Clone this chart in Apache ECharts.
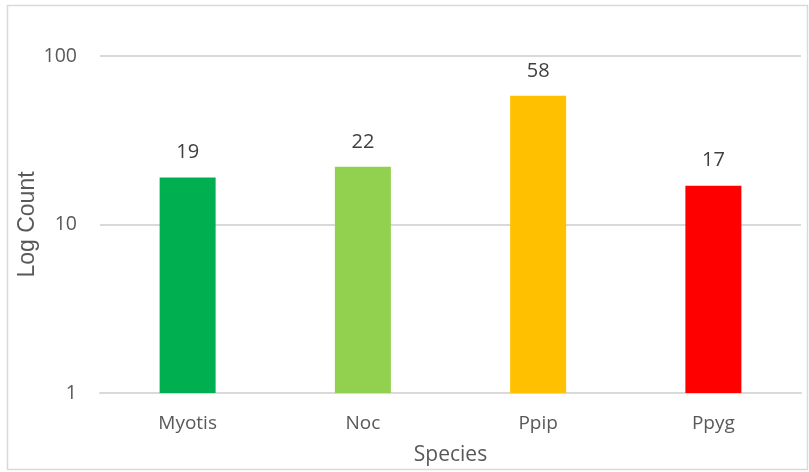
<!DOCTYPE html>
<html>
<head>
<meta charset="utf-8">
<script src="https://cdn.jsdelivr.net/npm/echarts@6/dist/echarts.min.js"></script>
<style>
  html, body { margin: 0; padding: 0; background: #fff; }
  #chart { width: 809px; height: 472px; }
</style>
</head>
<body>
<div id="chart"></div>
<script>
// Bat detections per species, plotted on a log axis
const species = ['Myotis', 'Noc', 'Ppip', 'Ppyg'];
const counts = [19, 22, 58, 17];
const barColors = ['#00B050', '#92D050', '#FFC000', '#FF0000'];

const textColor = '#595959';
const fontFamily = '"Open Sans", "Noto Sans", sans-serif';

const chart = echarts.init(document.getElementById('chart'), null, { renderer: 'canvas' });

chart.setOption({
  backgroundColor: '#ffffff',
  animation: false,
  graphic: [{
    type: 'rect',
    shape: { x: 7.5, y: 5.5, width: 800, height: 464 },
    style: { fill: 'none', stroke: '#d9d9d9', lineWidth: 1.5 },
    silent: true
  }],
  grid: { left: 100, right: 8, top: 56, bottom: 79, containLabel: false },
  xAxis: {
    type: 'category',
    data: species,
    name: 'Species',
    nameLocation: 'middle',
    nameGap: 52,
    nameTextStyle: { color: textColor, fontSize: 21, fontFamily },
    axisLine: { show: true, lineStyle: { color: '#d9d9d9', width: 2 } },
    axisTick: { show: false },
    axisLabel: { color: textColor, fontSize: 19, fontFamily, margin: 21 }
  },
  yAxis: {
    type: 'log',
    logBase: 10,
    min: 1,
    max: 100,
    name: 'Log Count',
    nameLocation: 'middle',
    nameGap: 61,
    nameMoveOverlap: false,
    nameTextStyle: { color: textColor, fontSize: 23, fontFamily: '"Liberation Sans", Arial, sans-serif' },
    axisLine: { show: false },
    axisTick: { show: false },
    axisLabel: { color: textColor, fontSize: 19.5, fontFamily, margin: 23 },
    splitLine: { show: true, lineStyle: { color: '#d9d9d9', width: 2 } }
  },
  series: [{
    type: 'bar',
    data: counts.map((v, i) => ({ value: v, itemStyle: { color: barColors[i] } })),
    barWidth: 56,
    label: {
      show: true,
      position: 'top',
      distance: 15,
      color: '#404040',
      fontSize: 20,
      fontFamily
    }
  }]
});
</script>
</body>
</html>
